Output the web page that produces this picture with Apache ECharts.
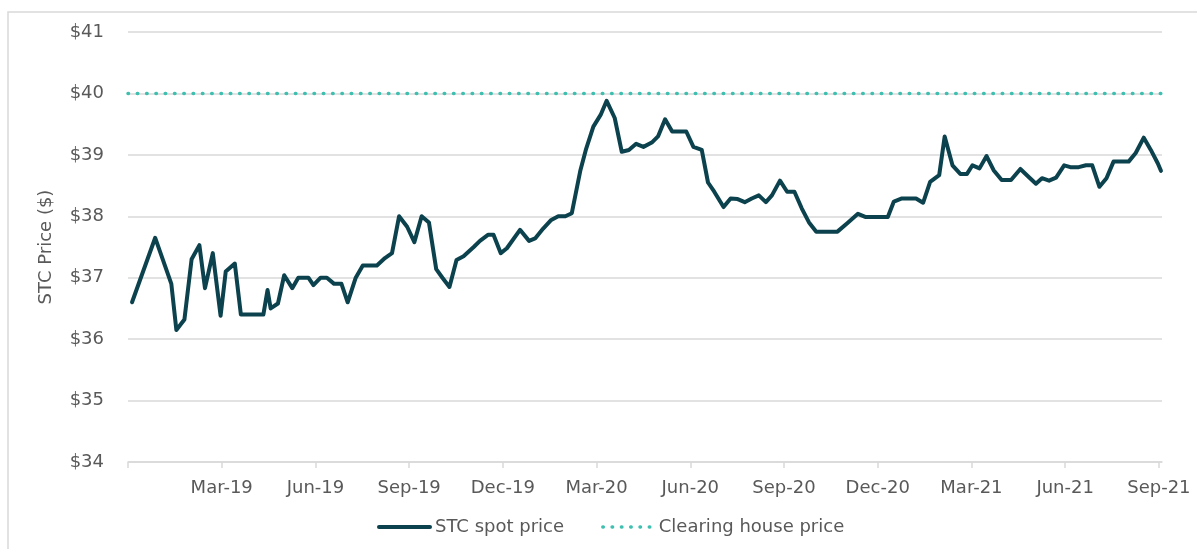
<!DOCTYPE html>
<html>
<head>
<meta charset="utf-8">
<script src="https://cdn.jsdelivr.net/npm/echarts@6/dist/echarts.min.js"></script>
<style>
  html, body { margin: 0; padding: 0; background: #fff; }
  #chart { width: 1197px; height: 549px; }
</style>
</head>
<body>
<div id="chart"></div>
<script type="text/javascript">

// STC spot price (turning points of the line)
var spotDates = [
	'2018-12-05', '2018-12-28', '2019-01-13', '2019-01-18', '2019-01-26', '2019-02-02', '2019-02-09', '2019-02-14',
	'2019-02-21', '2019-02-28', '2019-03-05', '2019-03-14', '2019-03-20', '2019-04-11', '2019-04-15', '2019-04-18',
	'2019-04-25', '2019-05-01', '2019-05-09', '2019-05-15', '2019-05-25', '2019-05-30', '2019-06-06', '2019-06-12',
	'2019-06-19', '2019-06-26', '2019-07-02', '2019-07-10', '2019-07-17', '2019-07-31', '2019-08-08', '2019-08-15',
	'2019-08-22', '2019-08-30', '2019-09-06', '2019-09-13', '2019-09-20', '2019-09-27', '2019-10-03', '2019-10-10',
	'2019-10-17', '2019-10-24', '2019-11-03', '2019-11-09', '2019-11-17', '2019-11-22', '2019-11-29', '2019-12-05',
	'2019-12-18', '2019-12-27', '2020-01-02', '2020-01-10', '2020-01-18', '2020-01-25', '2020-02-01', '2020-02-07',
	'2020-02-15', '2020-02-20', '2020-02-27', '2020-03-05', '2020-03-11', '2020-03-19', '2020-03-26', '2020-04-02',
	'2020-04-09', '2020-04-16', '2020-04-24', '2020-04-30', '2020-05-07', '2020-05-14', '2020-05-28', '2020-06-04',
	'2020-06-12', '2020-06-18', '2020-06-24', '2020-07-03', '2020-07-10', '2020-07-17', '2020-07-24', '2020-07-31',
	'2020-08-07', '2020-08-14', '2020-08-20', '2020-08-28', '2020-09-04', '2020-09-11', '2020-09-18', '2020-09-25',
	'2020-10-02', '2020-10-23', '2020-11-02', '2020-11-12', '2020-11-19', '2020-12-11', '2020-12-17', '2020-12-25',
	'2021-01-08', '2021-01-15', '2021-01-22', '2021-01-31', '2021-02-05', '2021-02-12', '2021-02-19', '2021-02-25',
	'2021-03-02', '2021-03-09', '2021-03-16', '2021-03-23', '2021-03-31', '2021-04-09', '2021-04-18', '2021-04-26',
	'2021-05-03', '2021-05-09', '2021-05-16', '2021-05-23', '2021-05-31', '2021-06-06', '2021-06-14', '2021-06-21',
	'2021-06-27', '2021-07-04', '2021-07-11', '2021-07-18', '2021-08-02', '2021-08-09', '2021-08-17', '2021-08-24',
	'2021-08-31', '2021-09-03'
];
var spotPrices = [
	36.6, 37.65, 36.9, 36.15, 36.32, 37.3, 37.53, 36.83,
	37.4, 36.38, 37.1, 37.23, 36.4, 36.4, 36.8, 36.5,
	36.58, 37.04, 36.83, 37.0, 37.0, 36.88, 37.0, 37.0,
	36.9, 36.9, 36.6, 37.0, 37.2, 37.2, 37.32, 37.4,
	38.0, 37.83, 37.58, 38.0, 37.9, 37.14, 37.0, 36.85,
	37.29, 37.35, 37.5, 37.6, 37.7, 37.7, 37.4, 37.48,
	37.78, 37.6, 37.64, 37.8, 37.94, 38.0, 38.0, 38.05,
	38.75, 39.08, 39.46, 39.65, 39.88, 39.6, 39.05, 39.08,
	39.18, 39.13, 39.2, 39.3, 39.58, 39.38, 39.38, 39.13,
	39.08, 38.55, 38.4, 38.15, 38.29, 38.28, 38.23, 38.29,
	38.34, 38.23, 38.34, 38.58, 38.4, 38.4, 38.13, 37.9,
	37.75, 37.75, 37.89, 38.04, 37.99, 37.99, 38.24, 38.29,
	38.29, 38.22, 38.56, 38.67, 39.3, 38.83, 38.69, 38.69,
	38.83, 38.78, 38.98, 38.75, 38.59, 38.59, 38.77, 38.64,
	38.53, 38.62, 38.58, 38.63, 38.83, 38.8, 38.8, 38.83,
	38.83, 38.48, 38.62, 38.89, 38.89, 39.03, 39.28, 39.08,
	38.86, 38.74
];

// clearing house price (flat across the whole period)
var clearingDates = ['2018-12-01', '2021-09-04'];
var clearingPrices = [40, 40];

// axis: months counted from Dec-18, ticks every quarter
var tickMonths = [0, 3, 6, 9, 12, 15, 18, 21, 24, 27, 30, 33];
var labelMonths = [3, 6, 9, 12, 15, 18, 21, 24, 27, 30, 33];
var monthNames = ['Jan', 'Feb', 'Mar', 'Apr', 'May', 'Jun', 'Jul', 'Aug', 'Sep', 'Oct', 'Nov', 'Dec'];
var yTicks = [34, 35, 36, 37, 38, 39, 40, 41];

function monthIndex(s) {
	var p = s.split('-');
	var y = +p[0], m = +p[1], d = +p[2];
	var days = new Date(y, m, 0).getDate();
	return (y - 2018) * 12 + (m - 12) + (d - 1) / days;
}

function toPoints(dates, values) {
	var pts = [];
	for (var i = 0; i < dates.length; i++) {
		pts.push([monthIndex(dates[i]), values[i]]);
	}
	return pts;
}

var textColor = '#595959';
var font = 'DejaVu Sans';
var spotColor = '#0b424d';
var clearingColor = '#3fbfb0';

var chart = echarts.init(document.getElementById('chart'), null, { renderer: 'canvas' });

var option = {
	animation: false,
	backgroundColor: '#ffffff',
	textStyle: { fontFamily: font },
	graphic: [{
		type: 'rect',
		shape: { x: 8, y: 12, width: 1400, height: 700 },
		style: { fill: 'none', stroke: '#d9d9d9', lineWidth: 1.5 },
		silent: true
	}],
	grid: {
		left: 128,
		right: 35,
		top: 32,
		bottom: 87
	},
	legend: {
		left: 377,
		top: 518,
		padding: 0,
		itemWidth: 51,
		itemHeight: 18,
		itemGap: 37,
		itemStyle: { opacity: 0 },
		textStyle: { color: textColor, fontSize: 18, fontFamily: font },
		data: [
			{ name: 'STC spot price', lineStyle: { width: 4, color: spotColor } },
			{ name: 'Clearing house price', lineStyle: { width: 3.5, color: clearingColor, type: [0.5, 8.8], cap: 'round' } }
		]
	},
	xAxis: {
		type: 'value',
		min: 0,
		max: monthIndex(clearingDates[1]),
		splitLine: { show: false },
		axisLine: { show: true, lineStyle: { color: '#d9d9d9', width: 1.5 } },
		axisTick: {
			show: true,
			length: 6,
			customValues: tickMonths,
			lineStyle: { color: '#d9d9d9', width: 1.5 }
		},
		axisLabel: {
			customValues: labelMonths,
			color: textColor,
			fontSize: 18,
			fontFamily: font,
			margin: 17,
			formatter: function (v) {
				var m = Math.round(v) + 11;
				var yr = 2018 + Math.floor(m / 12);
				return monthNames[m % 12] + '-' + String(yr).substring(2);
			}
		}
	},
	yAxis: {
		type: 'value',
		min: yTicks[0],
		max: yTicks[yTicks.length - 1],
		interval: 1,
		name: 'STC Price ($)',
		nameLocation: 'middle',
		nameGap: 73,
		nameTextStyle: { color: textColor, fontSize: 18, fontFamily: font },
		axisLine: { show: false },
		axisTick: { show: false },
		axisLabel: {
			color: textColor,
			fontSize: 18,
			fontFamily: font,
			margin: 24,
			formatter: function (v) { return '$' + v; }
		},
		splitLine: { show: true, lineStyle: { color: '#d9d9d9', width: 1.5 } }
	},
	series: [
		{
			name: 'STC spot price',
			type: 'line',
			data: toPoints(spotDates, spotPrices),
			symbol: 'none',
			clip: false,
			color: spotColor,
			lineStyle: { color: spotColor, width: 4, join: 'round', cap: 'round' },
			z: 3
		},
		{
			name: 'Clearing house price',
			type: 'line',
			data: toPoints(clearingDates, clearingPrices),
			symbol: 'none',
			color: clearingColor,
			lineStyle: { color: clearingColor, width: 3.5, type: [0.5, 8.8], cap: 'round' },
			z: 2
		}
	]
};

chart.setOption(option);
</script>
</body>
</html>
